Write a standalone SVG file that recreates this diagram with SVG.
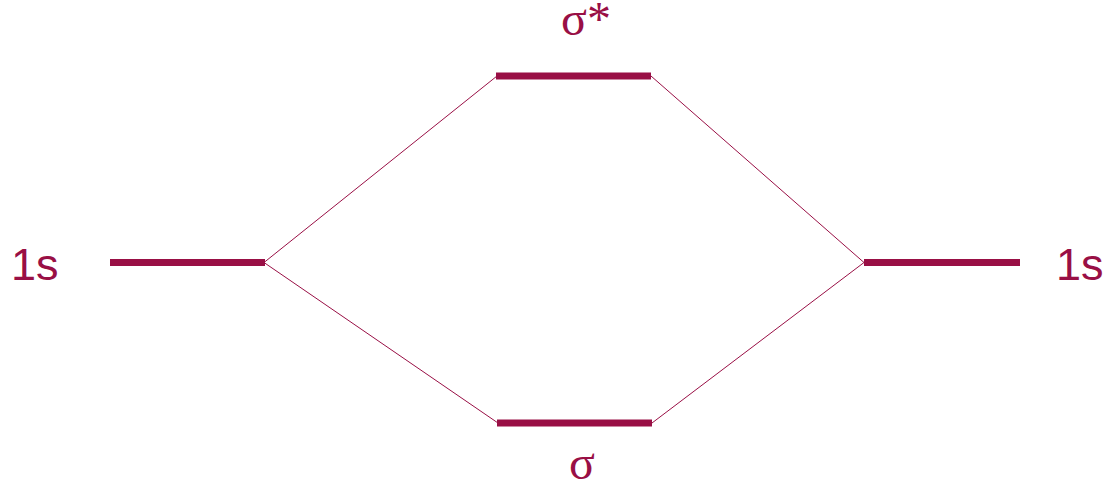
<svg xmlns="http://www.w3.org/2000/svg" width="1105" height="482" viewBox="0 0 1105 482">
<style>
.lvl{stroke:#990F45;stroke-width:7;fill:none}
.con{stroke:#990F45;stroke-width:1;fill:none}
.lab{fill:#990F45;font-family:"Liberation Sans",Arial,sans-serif;font-size:45px}
.sig{fill:#990F45;font-family:"Liberation Serif","Times New Roman",serif;font-size:48px}
</style>
<rect width="1105" height="482" fill="#ffffff"/>
<g id="connectors">
<line class="con" x1="264" y1="262.5" x2="497" y2="76"/>
<line class="con" x1="651" y1="76" x2="864" y2="262.5"/>
<line class="con" x1="264" y1="262.5" x2="498" y2="423"/>
<line class="con" x1="652" y1="423" x2="864" y2="262.5"/>
</g>
<g id="left1s">
<line class="lvl" x1="110" y1="262.5" x2="265" y2="262.5"/>
<text class="lab" x="11" y="280">1s</text>
</g>
<g id="right1s">
<line class="lvl" x1="864" y1="262.5" x2="1020" y2="262.5"/>
<text class="lab" x="1056" y="280">1s</text>
</g>
<g id="sigmastar">
<line class="lvl" x1="496" y1="76" x2="651" y2="76"/>
<text class="sig" x="586" y="35" text-anchor="middle">σ*</text>
</g>
<g id="sigma">
<line class="lvl" x1="497" y1="423" x2="652" y2="423"/>
<text class="sig" x="582" y="479" text-anchor="middle">σ</text>
</g>
</svg>
